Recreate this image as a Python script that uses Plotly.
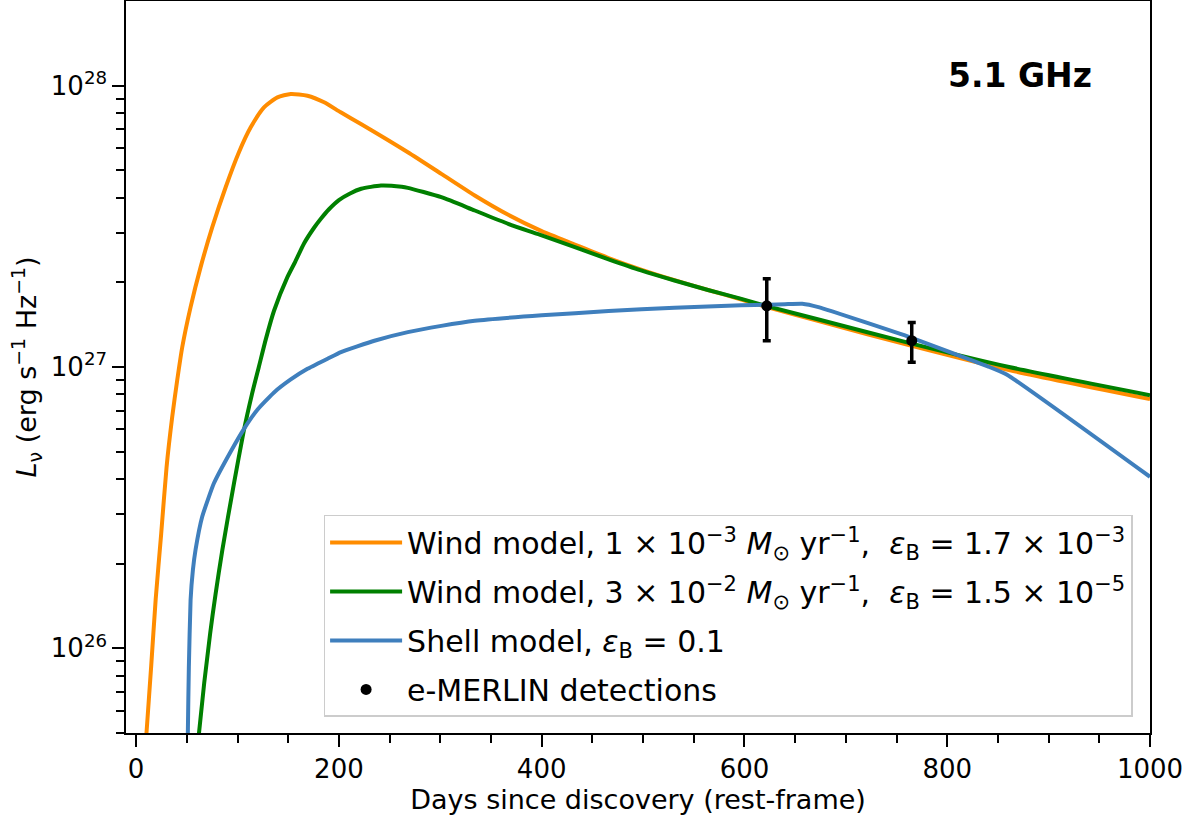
import plotly.graph_objects as go

# ---- data, luminosities in units of 1e27 erg/s/Hz ----
days_wind1 = [9, 10.2, 14.8, 19.3, 24.7, 30, 35.6, 40.5, 45.5, 53.7, 63.6, 75.1, 88.3, 101.4, 113, 126.1,
              139.4, 152.5, 169, 185.4, 201.8, 221.7, 268, 301, 334, 367, 400, 432, 466, 498, 531, 564,
              597, 624, 676, 765, 861, 1000]
lum_wind1 = [0.043, 0.05, 0.086, 0.15, 0.255, 0.44, 0.665, 0.897, 1.178, 1.633, 2.265, 3.14, 4.355, 5.80,
             7.11, 8.38, 9.09, 9.34, 9.21, 8.73, 8.04, 7.31, 5.80, 4.86, 4.07, 3.475, 3.04, 2.73, 2.44,
             2.22, 2.035, 1.878, 1.738, 1.625, 1.446, 1.189, 0.975, 0.769]

days_wind2 = [61, 62, 73, 85, 96.5, 106, 114, 121, 128, 136, 149.3, 157, 165.7, 175.5, 182.2, 190, 200, 211,
              222, 241.5, 262, 268, 301, 334, 367, 400, 432, 466, 498, 531, 564, 597, 624, 676, 765, 861,
              1000]
lum_wind2 = [0.045, 0.05, 0.113, 0.2235, 0.386, 0.589, 0.794, 1.0, 1.259, 1.585, 2.09, 2.37, 2.754, 3.126,
             3.365, 3.63, 3.92, 4.14, 4.30, 4.416, 4.37, 4.333, 4.013, 3.60, 3.228, 2.935, 2.673, 2.415,
             2.205, 2.03, 1.878, 1.746, 1.64, 1.466, 1.211, 1.0, 0.794]

days_shell = [50.5, 51, 52, 53.7, 56, 58.6, 65.2, 76.7, 93.2, 106.4, 119.6, 136, 152.5, 169, 188.8, 202,
              235, 268, 301, 334, 400, 466, 531, 597, 624, 640, 657, 673, 765, 840, 859, 1000]
lum_shell = [0.03, 0.05, 0.086, 0.1485, 0.19, 0.224, 0.294, 0.386, 0.50, 0.603, 0.705, 0.812, 0.903, 0.985,
             1.07, 1.13, 1.24, 1.33, 1.40, 1.46, 1.526, 1.58, 1.625, 1.656, 1.665, 1.672, 1.679, 1.633,
             1.27, 1.005, 0.939, 0.407]

det_days = [622, 765]
det_lum = [1.65, 1.24]
det_err = [0.41, 0.20]

scale = 1e27
x_major = [0, 200, 400, 600, 800, 1000]
x_minor = [50, 100, 150, 250, 300, 350, 450, 500, 550, 650, 700, 750, 850, 900, 950]
y_major = [1e26, 1e27, 1e28]
y_major_text = ["10<sup>26</sup>", "10<sup>27</sup>", "10<sup>28</sup>"]
y_minor = [float(m) * 10.0 ** e for e in (25, 26, 27) for m in range(2, 10)]

FONT = "DejaVu Sans"

names = [
    "Wind model, 1 × 10<sup>−3</sup> <i>M</i><sub>⊙</sub> yr<sup>−1</sup>,  <i>ε</i><sub>B</sub> = 1.7 × 10<sup>−3</sup>",
    "Wind model, 3 × 10<sup>−2</sup> <i>M</i><sub>⊙</sub> yr<sup>−1</sup>,  <i>ε</i><sub>B</sub> = 1.5 × 10<sup>−5</sup>",
    "Shell model, <i>ε</i><sub>B</sub> = 0.1",
    "e-MERLIN detections",
]

fig = go.Figure()
fig.add_trace(go.Scatter(x=days_wind1, y=[v * scale for v in lum_wind1], mode="lines",
                         line=dict(color="#FF8C00", width=4, shape="spline", smoothing=0.6),
                         name=names[0], legendgroup="a"))
fig.add_trace(go.Scatter(x=days_wind2, y=[v * scale for v in lum_wind2], mode="lines",
                         line=dict(color="#008000", width=4, shape="spline", smoothing=0.6),
                         name=names[1], legendgroup="b"))
fig.add_trace(go.Scatter(x=days_shell, y=[v * scale for v in lum_shell], mode="lines",
                         line=dict(color="#3F7FBD", width=4, shape="spline", smoothing=0.4),
                         name=names[2], legendgroup="c"))
fig.add_trace(go.Scatter(x=det_days, y=[v * scale for v in det_lum], mode="markers",
                         marker=dict(color="black", size=11),
                         error_y=dict(type="data", array=[v * scale for v in det_err], color="black",
                                      thickness=3.5, width=4),
                         name=names[3], legendgroup="d"))

fig.update_layout(
    width=1195, height=816,
    margin=dict(l=126, r=45, t=1, b=83),
    paper_bgcolor="white", plot_bgcolor="white",
    font=dict(family=FONT, color="black", size=26),
    showlegend=True,
    legend=dict(x=0.983, y=0.022, xanchor="right", yanchor="bottom",
                bgcolor="white", bordercolor="#cccccc", borderwidth=1.5,
                font=dict(family=FONT, size=30, color="black"),
                itemwidth=72, tracegroupgap=7, traceorder="grouped"),
    annotations=[dict(text="<b>5.1 GHz</b>", x=0.873, y=0.898, xref="paper", yref="paper",
                      xanchor="center", yanchor="middle",
                      showarrow=False, font=dict(family=FONT, size=33, color="black"))],
)

fig.update_xaxes(
    range=[-10, 1000], showline=True, linecolor="black", linewidth=1.5, mirror=True,
    showgrid=False, zeroline=False, automargin=False,
    tickmode="array", tickvals=x_major, ticktext=[str(v) for v in x_major],
    ticks="outside", ticklen=12, tickwidth=2, tickcolor="black",
    tickfont=dict(family=FONT, size=26),
    minor=dict(tickmode="array", tickvals=x_minor, ticks="outside", ticklen=8, tickwidth=2,
               tickcolor="black", showgrid=False),
    title=dict(text="Days since discovery (rest-frame)", font=dict(family=FONT, size=27), standoff=4),
)
fig.update_yaxes(
    type="log", range=[25.699, 28.301],
    showline=True, linecolor="black", linewidth=1.5, mirror=True,
    showgrid=False, zeroline=False, automargin=False,
    tickmode="array", tickvals=y_major, ticktext=y_major_text,
    ticks="outside", ticklen=12, tickwidth=2, tickcolor="black",
    tickfont=dict(family=FONT, size=26),
    minor=dict(tickmode="array", tickvals=y_minor, ticks="outside", ticklen=8, tickwidth=2,
               tickcolor="black", showgrid=False),
    title=dict(text="<i>L</i><sub>ν</sub> (erg s<sup>−1</sup> Hz<sup>−1</sup>)",
               font=dict(family=FONT, size=27), standoff=6),
)

fig.write_html("out.html", config={"displayModeBar": False},
               post_script="document.body.style.margin='0';document.body.style.overflow='hidden';")
